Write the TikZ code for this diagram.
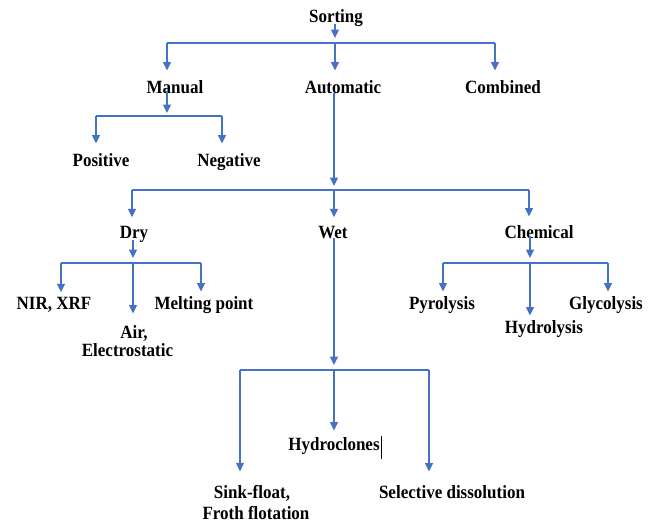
\documentclass[tikz,border=0pt]{standalone}
\usepackage{graphicx}
\usepackage{fontspec}
\setmainfont{Liberation Serif}
\usetikzlibrary{arrows.meta}
\definecolor{arrblue}{HTML}{4472C4}
\newcommand\tallbox[1]{\scalebox{1}[1.1]{#1}}
\tikzset{
  lbl/.style={anchor=base, inner sep=0pt, outer sep=0pt, font=\fontsize{17}{19}\selectfont\bfseries, text=black},
  ln/.style={draw=arrblue, line width=1.2pt},
  arr/.style={ln, -{Triangle[length=8.5pt,width=8pt]}},
}
\begin{document}
\begin{tikzpicture}[x=1pt,y=-1pt]
\path[use as bounding box, fill=white] (0,0) rectangle (656,523);

% labels (baseline positions)
\node[lbl] (sorting) at (336,22.5) {\tallbox{Sorting}};
\node[lbl] (manual) at (175,93.5) {\tallbox{Manual}};
\node[lbl] (automatic) at (343,93.5) {\tallbox{Automatic}};
\node[lbl] (combined) at (503,93.5) {\tallbox{Combined}};
\node[lbl] (positive) at (101,166.5) {\tallbox{Positive}};
\node[lbl] (negative) at (229,166.5) {\tallbox{Negative}};
\node[lbl] (dry) at (134,238.5) {\tallbox{Dry}};
\node[lbl] (wet) at (333,238.5) {\tallbox{Wet}};
\node[lbl] (chemical) at (539,238.5) {\tallbox{Chemical}};
\node[lbl] (nir) at (54,309.5) {\tallbox{NIR, XRF}};
\node[lbl] (melting) at (204,309.5) {\tallbox{Melting point}};
\node[lbl] (air) at (134,338.5) {\tallbox{Air,}};
\node[lbl] (electro) at (127.5,356.5) {\tallbox{Electrostatic}};
\node[lbl] (pyro) at (442,309.5) {\tallbox{Pyrolysis}};
\node[lbl] (glyco) at (606,309.5) {\tallbox{Glycolysis}};
\node[lbl] (hydro) at (544,333.5) {\tallbox{Hydrolysis}};
\node[lbl] (hydroc) at (334,450.5) {\tallbox{Hydroclones}};
\node[lbl] (sink) at (252,498.5) {\tallbox{Sink-float,}};
\node[lbl] (froth) at (256,519.5) {\tallbox{Froth flotation}};
\node[lbl] (selective) at (452,498.5) {\tallbox{Selective dissolution}};
\draw[line width=0.8pt] ([xshift=1.5pt,yshift=-4pt]hydroc.south east) -- ([xshift=1.5pt,yshift=2pt]hydroc.north east);

% junction coordinates
\coordinate (jS) at (335,43);
\coordinate (jSL) at (167,43);
\coordinate (jSR) at (495,43);
\coordinate (jM) at (167,116);
\coordinate (jML) at (96,116);
\coordinate (jMR) at (222,116);
\coordinate (jA) at (334,190);
\coordinate (jAL) at (132,190);
\coordinate (jAR) at (529,190);
\coordinate (jD) at (133,263);
\coordinate (jDL) at (61,263);
\coordinate (jDR) at (201,263);
\coordinate (jC) at (530,263);
\coordinate (jCL) at (443,263);
\coordinate (jCR) at (608,263);
\coordinate (jW) at (334,370);
\coordinate (jWL) at (240,370);
\coordinate (jWR) at (429,370);

% Sorting
\draw[arr] ([yshift=3pt]sorting.south -| jS) -- ([yshift=5pt]jS);
\draw[ln] (jSL) -- (jSR);
\draw[arr] (jSL) -- ([yshift=10pt]jSL |- manual.north);
\draw[arr] (jS) -- ([yshift=10pt]jS |- automatic.north);
\draw[arr] (jSR) -- ([yshift=10pt]jSR |- combined.north);

% Manual
\draw[arr] ([yshift=3pt]manual.south -| jM) -- ([yshift=3pt]jM);
\draw[ln] (jML) -- (jMR);
\draw[arr] (jML) -- ([yshift=10pt]jML |- positive.north);
\draw[arr] (jMR) -- ([yshift=10pt]jMR |- negative.north);

% Automatic
\draw[arr] ([yshift=1pt]automatic.south -| jA) -- ([yshift=4pt]jA);
\draw[ln] (jAL) -- (jAR);
\draw[arr] (jAL) -- ([yshift=9pt]jAL |- dry.north);
\draw[arr] (jA) -- ([yshift=9pt]jA |- wet.north);
\draw[arr] (jAR) -- ([yshift=9pt]jAR |- chemical.north);

% Dry
\draw[arr] ([yshift=3pt]dry.south -| jD) -- ([yshift=5pt]jD);
\draw[ln] (jDL) -- (jDR);
\draw[arr] (jDL) -- ([yshift=5pt]jDL |- nir.north);
\draw[arr] (jDR) -- ([yshift=5pt]jDR |- melting.north);
\draw[arr] (jD) -- ([yshift=12pt]jD |- air.north);

% Chemical
\draw[arr] ([yshift=3pt]chemical.south -| jC) -- ([yshift=5pt]jC);
\draw[ln] (jCL) -- (jCR);
\draw[arr] (jCL) -- ([yshift=5pt]jCL |- pyro.north);
\draw[arr] (jCR) -- ([yshift=5pt]jCR |- glyco.north);
\draw[arr] (jC) -- ([yshift=5pt]jC |- hydro.north);

% Wet
\draw[arr] ([yshift=1pt]wet.south -| jW) -- ([yshift=5pt]jW);
\draw[ln] (jWL) -- (jWR);
\draw[arr] (jWL) -- ([yshift=14pt]jWL |- sink.north);
\draw[arr] (jW) -- ([yshift=7pt]jW |- hydroc.north);
\draw[arr] (jWR) -- ([yshift=14pt]jWR |- selective.north);
\end{tikzpicture}
\end{document}
